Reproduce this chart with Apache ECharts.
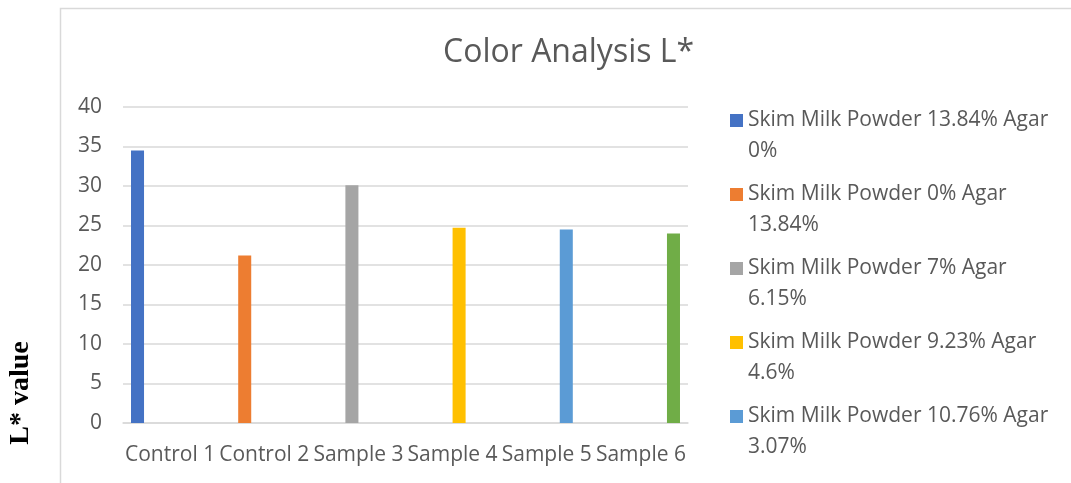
<!DOCTYPE html>
<html>
<head>
<meta charset="utf-8">
<title>Color Analysis L*</title>
<script src="https://cdn.jsdelivr.net/npm/echarts@6/dist/echarts.min.js"></script>
<style>
  html, body { margin: 0; padding: 0; background: #ffffff; }
  #chart { width: 1071px; height: 483px; }
</style>
</head>
<body>
<div id="chart"></div>
<script>
// Samples along the x axis
const categories = ['Control 1', 'Control 2', 'Sample 3', 'Sample 4', 'Sample 5', 'Sample 6'];

// One series per formulation
const seriesNames = [
  'Skim Milk Powder 13.84% Agar 0%',
  'Skim Milk Powder 0% Agar 13.84%',
  'Skim Milk Powder 7% Agar 6.15%',
  'Skim Milk Powder 9.23% Agar 4.6%',
  'Skim Milk Powder 10.76% Agar 3.07%',
  'Skim Milk Powder 12.3% Agar 1.54%'
];

// Legend entries that fit in the chart area
const legendCount = 5;

// Measured L* value of each sample
const lValues = [34.5, 21.2, 30.1, 24.7, 24.5, 24.0];

// Y axis scale
const yMin = 0;
const yMax = 40;
const yStep = 5;

const palette = ['#4472C4', '#ED7D31', '#A5A5A5', '#FFC000', '#5B9BD5', '#70AD47'];
const textColor = '#595959';
const fontFamily = '"Open Sans", Lato, sans-serif';

// Each formulation only has a value in its own sample's slot
const series = seriesNames.map((name, i) => ({
  name: name,
  type: 'bar',
  barGap: '0%',
  barCategoryGap: '17%',
  itemStyle: { color: palette[i] },
  data: categories.map((c, j) => (j === i ? lValues[i] : null))
}));

// Break long legend names after "Agar"; a blank leading line keeps the
// swatch level with the first line of text
function wrapName(name) {
  const k = name.lastIndexOf(' ');
  return ' \n' + name.slice(0, k) + '\n' + name.slice(k + 1);
}

const chart = echarts.init(document.getElementById('chart'), null, { renderer: 'canvas' });

chart.setOption({
  animation: false,
  backgroundColor: '#ffffff',
  textStyle: { fontFamily: fontFamily },
  title: {
    text: 'Color Analysis L*',
    left: 438,
    top: 32,
    textStyle: { color: textColor, fontSize: 32, fontWeight: 'normal', fontFamily: fontFamily }
  },
  grid: { left: 123, right: 383, top: 107, bottom: 60, containLabel: false },
  legend: {
    orient: 'vertical',
    left: 730,
    top: 74,
    height: 800,
    padding: 0,
    itemWidth: 13,
    itemHeight: 13,
    itemGap: -19,
    icon: 'rect',
    data: seriesNames.slice(0, legendCount),
    formatter: wrapName,
    textStyle: {
      color: textColor,
      fontSize: 21,
      lineHeight: 31,
      fontFamily: fontFamily
    }
  },
  xAxis: {
    type: 'category',
    data: categories,
    axisTick: { show: false },
    axisLine: { lineStyle: { color: '#d9d9d9', width: 1.5 } },
    axisLabel: { interval: 0, color: textColor, fontSize: 21, margin: 22, fontFamily: fontFamily }
  },
  yAxis: {
    type: 'value',
    min: yMin,
    max: yMax,
    interval: yStep,
    axisLine: { show: false },
    axisTick: { show: false },
    splitLine: { lineStyle: { color: '#d9d9d9', width: 1.5 } },
    axisLabel: { color: textColor, fontSize: 21, margin: 21, fontFamily: fontFamily }
  },
  graphic: [
    {
      type: 'rect',
      silent: true,
      shape: { x: 60.5, y: 8.5, width: 1100, height: 600 },
      style: { fill: 'none', stroke: '#d9d9d9', lineWidth: 1.5 }
    },
    {
      type: 'text',
      silent: true,
      x: 21,
      y: 393,
      rotation: Math.PI / 2,
      style: {
        text: 'L* value',
        fill: '#000000',
        font: 'bold 28px "Liberation Serif", "Times New Roman", serif',
        align: 'center',
        verticalAlign: 'middle'
      }
    }
  ],
  series: series
});
</script>
</body>
</html>
